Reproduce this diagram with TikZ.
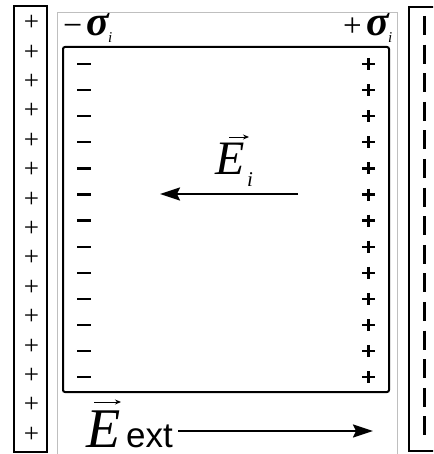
\documentclass[tikz,border=0pt]{standalone}
\usepackage{fontspec}
\setmainfont{Liberation Serif}
\newfontfamily\sansf{Liberation Sans}
\usetikzlibrary{arrows.meta}
\tikzset{
  plate/.style={draw=black,line width=2.4pt},
  thinplus/.style={inner sep=0pt,font=\fontsize{27}{27}\selectfont},
  lbl/.style={inner sep=0pt,anchor=base west},
  fieldarrow/.style={line width=2pt,-{Stealth[length=20pt,width=13pt,inset=3pt]}},
  vecarrow/.style={line width=0.9pt,-{Stealth[length=6pt,width=5pt]}},
  chg/.style={line width=2.3pt},
}
\begin{document}
\begin{tikzpicture}[x=1pt,y=-1pt]
\useasboundingbox (0,0) rectangle (433,454);
\clip (0,0) rectangle (433,454);
% gray frame
\draw[black!25,line width=0.7pt] (57,456) -- (57,12) -- (397,12) -- (397,456);
% left plate
\node[plate,minimum width=33pt,minimum height=446pt,inner sep=0pt] (lp) at (30.5,229) {};
\foreach \k in {0,...,14}{
  \node[thinplus] (lp\k) at (31.5,{23+\k*29.4}) {+};
}
% right plate
\node[plate,minimum width=34pt,minimum height=444pt,inner sep=0pt] (rp) at (426,229) {};
\foreach \k in {0,...,14}{
  \draw[line width=3pt] (424,{16+\k*28.6}) -- (424,{35+\k*28.6});
}
% inner box
\node[draw,line width=2pt,rounded corners=2pt,minimum width=326pt,minimum height=345pt,inner sep=0pt] (box) at (226,219.5) {};
% charges
\foreach \k in {0,...,12}{
  \draw[chg] (77,{64+\k*26.1}) -- (91,{64+\k*26.1});
  \draw[chg] (362,{64+\k*26.1}) -- (375,{64+\k*26.1});
  \draw[chg] (368.5,{58+\k*26.1}) -- (368.5,{70+\k*26.1});
}
% sigma labels
\node[lbl,font=\fontsize{34}{34}\selectfont] (slm) at (63,37) {\char"2212};
\node[lbl,font=\fontsize{42}{42}\selectfont\bfseries\itshape] (sl) at (86,36) {σ};
\node[lbl,font=\fontsize{15}{15}\selectfont\itshape] (sli) at (108,43) {i};
\node[lbl,font=\fontsize{33}{33}\selectfont] (srp) at (343,37) {+};
\node[lbl,font=\fontsize{42}{42}\selectfont\bfseries\itshape] (sr) at (366,36) {σ};
\node[lbl,font=\fontsize{15}{15}\selectfont\itshape] (sri) at (388,43) {i};
% internal field
\coordinate (ei0) at (298,194);
\coordinate (ei1) at (160,194);
\draw[fieldarrow] (ei0) -- (ei1);
\node[lbl,font=\fontsize{48}{48}\selectfont\itshape] (Ei) at (215,175) {E};
\node[lbl,font=\fontsize{21}{21}\selectfont\itshape] (Eii) at (247,186) {i};
\coordinate (va0) at (229,137);
\coordinate (va1) at (249,137);
\draw[vecarrow] (va0) -- (va1);
% external field
\node[lbl,font=\fontsize{56}{56}\selectfont\itshape] (Ee) at (86,447) {E};
\node[lbl,font=\fontsize{35}{35}\selectfont\sansf] (Eet) at (126,447) {ext};
\coordinate (vb0) at (94,402);
\coordinate (vb1) at (121,402);
\draw[vecarrow] (vb0) -- (vb1);
\coordinate (ee0) at (178,431);
\coordinate (ee1) at (373,431);
\draw[fieldarrow] (ee0) -- (ee1);
\end{tikzpicture}
\end{document}
